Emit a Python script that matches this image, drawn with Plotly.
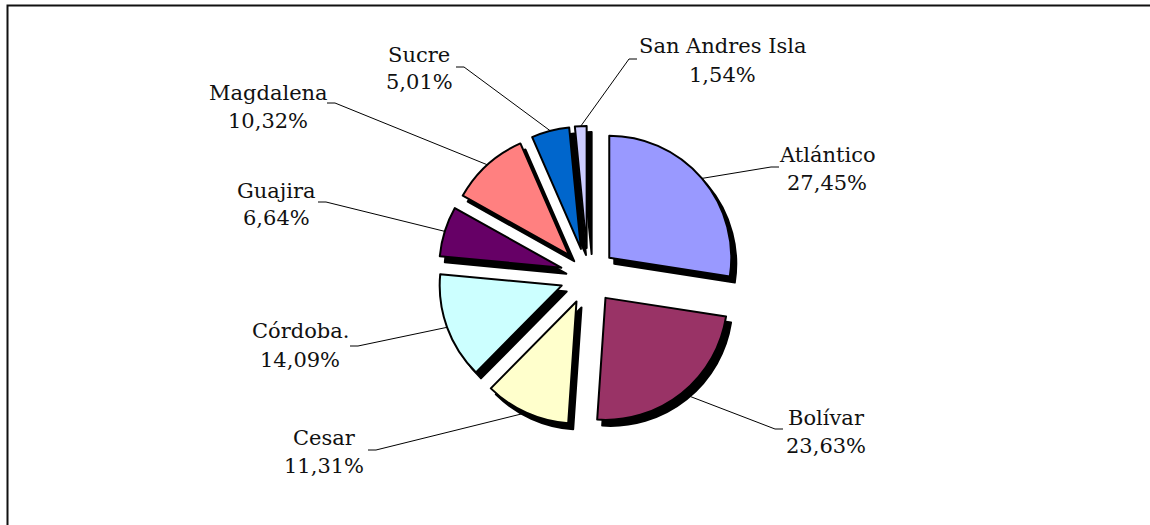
import math
import plotly.graph_objects as go

# ---------------- data ----------------
departamentos = ["Atlántico", "Bolívar", "Cesar", "Córdoba.", "Guajira",
                 "Magdalena", "Sucre", "San Andres Isla"]
porcentajes = [27.45, 23.63, 11.31, 14.09, 6.64, 10.32, 5.01, 1.54]
colores = ["#9999FF", "#993366", "#FFFFCC", "#CCFFFF", "#660066",
           "#FF8080", "#0066CC", "#CCCCFF"]

# ---------------- layout constants (pixels) ----------------
W, H = 1150, 525
CX, CY = 588, 276          # pie centre
BOX = 300                  # pie domain size
PULL = 0.2295              # explode fraction
SH_DX, SH_DY = 5, 6        # shadow offset
FS = 21
FONT = "DejaVu Serif"

# label layout: text centre x, baseline of line 1, baseline of line 2,
# leader stub start (x, y) and stub direction
label_cx = [827, 826, 324, 300, 276, 268, 419, 722]
label_b1 = [162, 425, 445, 338, 198, 100, 62, 53]
label_b2 = [190, 453, 473, 367, 225, 128, 89, 82]
stub_x = [779, 783, 368, 350, 318, 327, 456, 637]
stub_y = [167, 429, 450, 346, 202, 103, 67, 59]
stub_dir = [-1, -1, 1, 1, 1, 1, 1, -1]
STUB = 8


def px(x):
    return x / W


def py(y):
    return 1 - y / H


def domain(cx, cy):
    return dict(x=[px(cx - BOX / 2), px(cx + BOX / 2)],
                y=[py(cy + BOX / 2), py(cy - BOX / 2)])


fig = go.Figure()

# shadow pie
fig.add_trace(go.Pie(
    labels=departamentos, values=porcentajes, sort=False,
    direction="clockwise", rotation=0, pull=PULL,
    marker=dict(colors=["#000000"] * len(porcentajes),
                line=dict(color="#000000", width=2)),
    textinfo="none", hoverinfo="skip", showlegend=False,
    domain=domain(CX + SH_DX, CY + SH_DY),
))

# main pie
fig.add_trace(go.Pie(
    labels=departamentos, values=porcentajes, sort=False,
    direction="clockwise", rotation=0, pull=PULL,
    marker=dict(colors=colores, line=dict(color="#000000", width=2)),
    textinfo="none", showlegend=False,
    domain=domain(CX, CY),
))

# leader lines and labels derived from the data
total = sum(porcentajes)
r_edge = BOX / 2  # r * (1 + pull)
shapes = []
annotations = []
cum = 0.0
for i, (name, v) in enumerate(zip(departamentos, porcentajes)):
    mid = (cum + v / 2) / total * 2 * math.pi
    cum += v
    ex = CX + r_edge * math.sin(mid)
    ey = CY - r_edge * math.cos(mid)
    sx, sy = stub_x[i], stub_y[i]
    mx = sx + STUB * stub_dir[i]
    path = f"M {px(sx)} {py(sy)} L {px(mx)} {py(sy)} L {px(ex)} {py(ey)}"
    shapes.append(dict(type="path", xref="paper", yref="paper", path=path,
                       line=dict(color="#000000", width=1)))
    pct = f"{v:.2f}".replace(".", ",") + "%"
    for txt, base in ((name, label_b1[i]), (pct, label_b2[i])):
        annotations.append(dict(
            x=px(label_cx[i]), y=py(base - 0.346 * FS),
            xref="paper", yref="paper", xanchor="center", yanchor="middle",
            text=txt, showarrow=False,
            font=dict(family=FONT, size=FS, color="#111111")))

# outer frame (right and bottom edges lie outside the picture)
shapes.append(dict(type="rect", xref="paper", yref="paper",
                   x0=px(7.5), x1=1.02, y0=-0.03, y1=py(5.5),
                   line=dict(color="#111111", width=2)))

fig.update_layout(
    width=W, height=H,
    margin=dict(l=0, r=0, t=0, b=0),
    paper_bgcolor="#FFFFFF", plot_bgcolor="#FFFFFF",
    shapes=shapes, annotations=annotations,
    showlegend=False,
)

fig.write_html(
    "out.html",
    config={"displayModeBar": False},
    post_script="document.body.style.margin='0';"
                "document.body.style.overflow='hidden';",
)
